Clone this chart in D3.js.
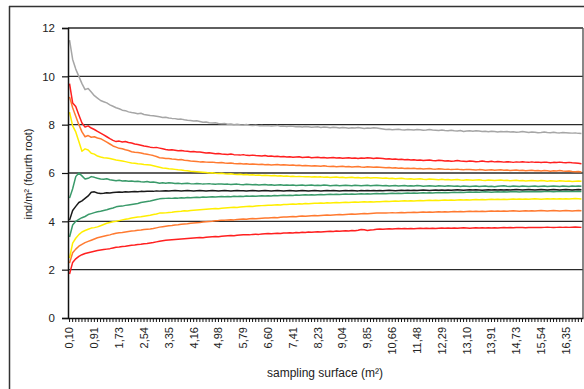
<!DOCTYPE html>
<html><head><meta charset="utf-8">
<script src="https://cdn.jsdelivr.net/npm/d3@7/dist/d3.min.js"></script>
<style>body{margin:0;background:#fff;}svg{display:block;font-family:"Liberation Sans",Arial,sans-serif;}</style>
</head><body><svg id="c" width="584" height="389"></svg>
<script>
// sampling unit area (m²); categories are cumulative sampled surfaces
const unitArea = 0.1015625;
const categories = d3.range(1, 167).map(k => (k * unitArea).toFixed(2).replace('.', ','));
const tickLabels = ["0,10","0,91","1,73","2,54","3,35","4,16","4,98","5,79","6,60","7,41","8,23","9,04","9,85","10,66","11,48","12,29","13,10","13,91","14,73","15,54","16,35"];
const yTicks = [0, 2, 4, 6, 8, 10, 12];

const gray = [11.5,10.7,10.3,10.0,9.7,9.45,9.5,9.35,9.2,9.1,
9.0,8.95,8.9,8.82,8.76,8.7,8.66,8.6,8.58,8.53,
8.5,8.48,8.45,8.47,8.42,8.4,8.38,8.37,8.35,8.33,
8.3,8.31,8.28,8.26,8.25,8.22,8.23,8.2,8.18,8.17,
8.15,8.16,8.13,8.1,8.11,8.08,8.07,8.08,8.05,8.04,
8.05,8.02,8.03,8.0,8.02,8.0,7.99,8.01,7.98,7.97,
7.98,7.96,7.97,7.95,7.96,7.94,7.95,7.97,7.93,7.94,
7.92,7.94,7.93,7.91,7.92,7.9,7.92,7.91,7.89,7.9,
7.91,7.88,7.9,7.89,7.87,7.89,7.88,7.86,7.88,7.87,
7.85,7.87,7.86,7.88,7.86,7.84,7.86,7.85,7.87,7.86,
7.84,7.82,7.8,7.81,7.79,7.8,7.81,7.79,7.78,7.8,
7.79,7.78,7.8,7.79,7.77,7.78,7.8,7.78,7.77,7.76,
7.78,7.76,7.75,7.77,7.75,7.74,7.76,7.72,7.74,7.75,
7.73,7.75,7.74,7.72,7.73,7.71,7.73,7.72,7.7,7.72,
7.71,7.72,7.7,7.71,7.69,7.7,7.72,7.7,7.68,7.7,
7.69,7.67,7.68,7.7,7.68,7.67,7.69,7.67,7.66,7.68,
7.67,7.66,7.65,7.66,7.64,7.63];

const redHigh = [9.7,8.9,8.75,8.4,8.07,7.9,7.95,7.86,7.8,7.72,
7.65,7.58,7.5,7.42,7.35,7.3,7.32,7.28,7.3,7.26,
7.24,7.2,7.18,7.15,7.12,7.1,7.07,7.05,7.06,7.03,
7.0,6.97,6.95,6.96,6.94,6.92,6.93,6.91,6.9,6.88,
6.89,6.87,6.87,6.85,6.83,6.84,6.82,6.8,6.81,6.79,
6.78,6.77,6.79,6.76,6.75,6.74,6.76,6.73,6.72,6.74,
6.72,6.71,6.7,6.72,6.69,6.7,6.68,6.69,6.67,6.68,
6.66,6.67,6.65,6.66,6.67,6.64,6.65,6.66,6.63,6.64,
6.65,6.63,6.64,6.62,6.63,6.64,6.62,6.63,6.61,6.62,
6.63,6.61,6.62,6.6,6.62,6.61,6.63,6.62,6.6,6.62,
6.61,6.6,6.58,6.59,6.57,6.58,6.56,6.57,6.55,6.56,
6.54,6.55,6.53,6.54,6.52,6.53,6.54,6.52,6.51,6.53,
6.52,6.5,6.51,6.49,6.5,6.52,6.5,6.49,6.48,6.5,
6.49,6.47,6.48,6.5,6.48,6.47,6.49,6.46,6.48,6.47,
6.45,6.47,6.46,6.44,6.46,6.45,6.47,6.45,6.44,6.46,
6.44,6.45,6.43,6.45,6.44,6.42,6.44,6.43,6.45,6.43,
6.42,6.44,6.42,6.41,6.4,6.38];

const orangeHigh = [9.15,8.7,8.35,8.0,7.7,7.5,7.55,7.48,7.5,7.45,
7.42,7.35,7.28,7.2,7.12,7.07,7.02,7.0,6.96,6.93,
6.88,6.86,6.85,6.83,6.8,6.78,6.75,6.72,6.68,6.63,
6.62,6.6,6.6,6.58,6.57,6.55,6.56,6.53,6.52,6.5,
6.49,6.48,6.46,6.47,6.45,6.44,6.45,6.43,6.42,6.43,
6.41,6.4,6.41,6.39,6.38,6.39,6.37,6.38,6.36,6.37,
6.36,6.35,6.36,6.34,6.35,6.33,6.34,6.35,6.33,6.34,
6.33,6.32,6.33,6.31,6.32,6.3,6.31,6.3,6.29,6.3,
6.29,6.28,6.3,6.28,6.27,6.28,6.26,6.27,6.28,6.26,
6.27,6.25,6.26,6.27,6.25,6.24,6.26,6.25,6.24,6.25,
6.24,6.23,6.22,6.23,6.21,6.22,6.2,6.21,6.19,6.2,
6.19,6.2,6.18,6.19,6.17,6.18,6.19,6.17,6.16,6.18,
6.17,6.15,6.16,6.14,6.15,6.16,6.14,6.13,6.15,6.14,
6.13,6.12,6.14,6.13,6.11,6.12,6.13,6.11,6.12,6.13,
6.11,6.12,6.1,6.11,6.12,6.1,6.11,6.09,6.1,6.11,
6.09,6.1,6.08,6.1,6.09,6.07,6.09,6.08,6.1,6.08,
6.07,6.08,6.06,6.05,6.06,6.04];

const yellowHigh = [8.52,7.95,7.7,7.3,6.9,7.0,6.95,6.82,6.78,6.7,
6.66,6.63,6.62,6.6,6.57,6.54,6.52,6.5,6.47,6.44,
6.41,6.4,6.38,6.37,6.35,6.34,6.33,6.3,6.27,6.24,
6.21,6.2,6.18,6.17,6.15,6.13,6.12,6.1,6.09,6.07,
6.06,6.05,6.04,6.03,6.02,6.0,6.01,5.99,5.98,5.99,
5.97,5.96,5.97,5.95,5.94,5.95,5.93,5.94,5.92,5.93,
5.91,5.92,5.9,5.91,5.9,5.89,5.9,5.88,5.89,5.87,
5.88,5.86,5.87,5.85,5.86,5.85,5.84,5.85,5.83,5.84,
5.83,5.84,5.82,5.83,5.81,5.82,5.83,5.81,5.82,5.8,
5.81,5.82,5.8,5.81,5.79,5.8,5.81,5.79,5.8,5.8,
5.79,5.78,5.79,5.77,5.78,5.76,5.77,5.78,5.76,5.75,
5.76,5.74,5.75,5.76,5.74,5.73,5.75,5.74,5.73,5.72,
5.74,5.72,5.73,5.71,5.72,5.73,5.71,5.7,5.72,5.71,
5.7,5.71,5.72,5.7,5.69,5.71,5.7,5.69,5.7,5.71,
5.69,5.7,5.68,5.69,5.7,5.68,5.69,5.67,5.68,5.69,
5.68,5.67,5.69,5.68,5.66,5.68,5.67,5.66,5.68,5.67,
5.66,5.67,5.65,5.66,5.67,5.66];

const greenHigh = [4.96,5.35,5.85,6.0,5.88,5.75,5.78,5.85,5.82,5.78,
5.75,5.74,5.76,5.72,5.7,5.68,5.7,5.67,5.68,5.66,
5.67,5.65,5.66,5.64,5.63,5.65,5.62,5.63,5.61,5.58,
5.6,5.58,5.6,5.59,5.57,5.58,5.56,5.57,5.58,5.56,
5.55,5.57,5.56,5.54,5.55,5.56,5.54,5.53,5.55,5.54,
5.53,5.54,5.52,5.53,5.54,5.52,5.51,5.53,5.52,5.51,
5.52,5.5,5.51,5.52,5.5,5.51,5.49,5.5,5.51,5.49,
5.5,5.49,5.5,5.48,5.49,5.5,5.48,5.49,5.5,5.48,
5.49,5.48,5.5,5.49,5.47,5.48,5.49,5.47,5.48,5.49,
5.48,5.47,5.49,5.48,5.47,5.48,5.49,5.47,5.48,5.49,
5.48,5.47,5.48,5.46,5.47,5.48,5.46,5.47,5.48,5.46,
5.47,5.46,5.48,5.47,5.45,5.46,5.47,5.46,5.45,5.47,
5.46,5.45,5.47,5.46,5.45,5.46,5.44,5.46,5.45,5.44,
5.45,5.46,5.44,5.45,5.46,5.44,5.45,5.43,5.45,5.46,
5.47,5.45,5.44,5.46,5.45,5.44,5.46,5.45,5.44,5.45,
5.46,5.44,5.45,5.46,5.44,5.45,5.46,5.45,5.44,5.46,
5.45,5.44,5.46,5.45,5.46,5.45];

const black = [4.05,4.45,4.62,4.78,4.85,4.95,5.05,5.2,5.22,5.17,
5.15,5.16,5.18,5.17,5.19,5.2,5.21,5.2,5.22,5.21,
5.22,5.23,5.22,5.24,5.23,5.24,5.25,5.24,5.26,5.25,
5.26,5.27,5.26,5.27,5.28,5.27,5.26,5.27,5.28,5.27,
5.26,5.27,5.28,5.27,5.26,5.27,5.28,5.27,5.26,5.27,
5.28,5.27,5.26,5.27,5.28,5.27,5.27,5.26,5.27,5.28,
5.27,5.26,5.27,5.28,5.27,5.26,5.27,5.28,5.27,5.26,
5.27,5.28,5.27,5.26,5.27,5.28,5.27,5.26,5.27,5.28,
5.27,5.26,5.27,5.28,5.27,5.28,5.27,5.26,5.27,5.28,
5.27,5.28,5.27,5.26,5.28,5.27,5.28,5.27,5.28,5.27,
5.28,5.27,5.28,5.29,5.28,5.27,5.28,5.29,5.28,5.29,
5.28,5.29,5.28,5.29,5.3,5.29,5.28,5.29,5.3,5.29,
5.3,5.29,5.3,5.29,5.3,5.31,5.3,5.29,5.3,5.31,
5.3,5.31,5.3,5.29,5.3,5.31,5.3,5.31,5.3,5.31,
5.3,5.31,5.3,5.31,5.32,5.31,5.3,5.31,5.32,5.31,
5.3,5.31,5.32,5.31,5.3,5.31,5.32,5.31,5.3,5.31,
5.32,5.31,5.3,5.31,5.32,5.31];

const greenLow = [3.35,3.85,4.0,4.08,4.15,4.2,4.28,4.32,4.36,4.4,
4.42,4.45,4.48,4.52,4.55,4.6,4.62,4.63,4.66,4.68,
4.7,4.72,4.74,4.78,4.8,4.82,4.84,4.87,4.9,4.93,
4.94,4.95,4.96,4.95,4.97,4.96,4.98,4.97,4.99,4.98,
4.99,5.0,4.99,5.01,5.0,5.01,5.02,5.01,5.02,5.03,
5.02,5.03,5.02,5.04,5.03,5.04,5.03,5.05,5.04,5.05,
5.04,5.05,5.06,5.05,5.06,5.05,5.07,5.06,5.07,5.08,
5.07,5.08,5.07,5.09,5.08,5.09,5.1,5.09,5.1,5.09,
5.1,5.11,5.1,5.11,5.12,5.11,5.12,5.11,5.12,5.13,
5.12,5.13,5.12,5.13,5.14,5.13,5.14,5.13,5.14,5.15,
5.14,5.15,5.14,5.15,5.16,5.15,5.16,5.15,5.16,5.17,
5.16,5.17,5.16,5.17,5.18,5.17,5.18,5.17,5.18,5.19,
5.18,5.19,5.18,5.19,5.2,5.19,5.2,5.19,5.2,5.21,
5.2,5.21,5.2,5.21,5.22,5.21,5.2,5.21,5.22,5.21,
5.22,5.21,5.22,5.23,5.22,5.21,5.22,5.23,5.22,5.23,
5.22,5.23,5.22,5.23,5.24,5.23,5.22,5.23,5.24,5.23,
5.24,5.23,5.24,5.23,5.24,5.23];

const yellowLow = [2.48,3.1,3.3,3.45,3.56,3.62,3.67,3.72,3.74,3.77,
3.82,3.87,3.92,3.95,3.98,4.0,4.03,4.06,4.09,4.11,
4.14,4.16,4.18,4.19,4.21,4.23,4.25,4.28,4.3,4.34,
4.34,4.35,4.37,4.38,4.4,4.41,4.42,4.44,4.43,4.45,
4.46,4.47,4.48,4.49,4.5,4.51,4.52,4.53,4.52,4.54,
4.55,4.56,4.57,4.58,4.57,4.59,4.6,4.61,4.62,4.61,
4.63,4.64,4.65,4.66,4.67,4.67,4.68,4.69,4.68,4.7,
4.7,4.71,4.72,4.71,4.73,4.72,4.74,4.73,4.74,4.75,
4.75,4.76,4.75,4.77,4.76,4.77,4.78,4.77,4.78,4.79,
4.78,4.79,4.8,4.79,4.8,4.81,4.8,4.81,4.8,4.81,
4.81,4.82,4.83,4.82,4.83,4.84,4.83,4.84,4.85,4.84,
4.85,4.84,4.85,4.86,4.85,4.86,4.87,4.86,4.87,4.86,
4.87,4.88,4.87,4.88,4.87,4.88,4.89,4.88,4.89,4.88,
4.89,4.9,4.89,4.9,4.89,4.9,4.91,4.9,4.91,4.9,
4.91,4.9,4.91,4.92,4.91,4.92,4.91,4.92,4.91,4.92,
4.93,4.92,4.91,4.92,4.93,4.92,4.93,4.92,4.93,4.92,
4.93,4.92,4.93,4.94,4.93,4.92];

const orangeLow = [2.27,2.7,2.85,2.97,3.05,3.12,3.17,3.22,3.27,3.32,
3.35,3.38,3.41,3.44,3.48,3.51,3.53,3.54,3.56,3.58,
3.6,3.61,3.63,3.64,3.66,3.67,3.68,3.7,3.73,3.76,
3.78,3.8,3.82,3.83,3.85,3.86,3.88,3.89,3.9,3.92,
3.93,3.94,3.95,3.97,3.98,3.99,4.0,4.02,4.03,4.05,
4.05,4.06,4.07,4.06,4.08,4.09,4.1,4.09,4.11,4.12,
4.11,4.12,4.13,4.14,4.14,4.15,4.16,4.15,4.17,4.18,
4.18,4.19,4.2,4.19,4.21,4.22,4.21,4.22,4.23,4.24,
4.23,4.24,4.25,4.26,4.25,4.26,4.27,4.28,4.27,4.28,
4.29,4.3,4.29,4.3,4.31,4.32,4.31,4.32,4.33,4.34,
4.34,4.35,4.34,4.35,4.36,4.35,4.36,4.37,4.36,4.37,
4.37,4.38,4.37,4.38,4.39,4.38,4.39,4.38,4.39,4.4,
4.39,4.4,4.39,4.4,4.41,4.4,4.41,4.4,4.41,4.42,
4.41,4.42,4.41,4.42,4.41,4.42,4.43,4.42,4.43,4.42,
4.43,4.42,4.43,4.44,4.43,4.42,4.43,4.44,4.43,4.44,
4.43,4.44,4.45,4.44,4.43,4.44,4.45,4.44,4.43,4.44,
4.45,4.44,4.43,4.44,4.45,4.44];

const redLow = [1.82,2.3,2.45,2.55,2.62,2.67,2.7,2.73,2.76,2.79,
2.81,2.83,2.85,2.87,2.9,2.93,2.94,2.96,2.97,2.99,
3.01,3.02,3.04,3.05,3.07,3.08,3.1,3.12,3.15,3.18,
3.2,3.22,3.23,3.24,3.25,3.26,3.27,3.28,3.29,3.3,
3.31,3.32,3.33,3.32,3.34,3.35,3.36,3.37,3.36,3.38,
3.39,3.4,3.41,3.4,3.42,3.43,3.44,3.45,3.44,3.46,
3.47,3.46,3.48,3.49,3.5,3.49,3.5,3.51,3.5,3.52,
3.52,3.53,3.52,3.54,3.53,3.55,3.54,3.56,3.55,3.56,
3.57,3.56,3.57,3.58,3.59,3.58,3.6,3.59,3.6,3.61,
3.6,3.62,3.61,3.63,3.66,3.65,3.62,3.64,3.65,3.67,
3.68,3.67,3.68,3.69,3.68,3.69,3.7,3.69,3.7,3.69,
3.7,3.69,3.7,3.71,3.7,3.71,3.7,3.71,3.7,3.71,
3.72,3.71,3.72,3.71,3.72,3.71,3.72,3.73,3.72,3.71,
3.72,3.73,3.72,3.73,3.72,3.73,3.72,3.73,3.72,3.73,
3.74,3.73,3.74,3.73,3.74,3.75,3.74,3.73,3.74,3.75,
3.74,3.75,3.74,3.75,3.76,3.75,3.74,3.75,3.76,3.75,
3.76,3.75,3.76,3.77,3.76,3.75];

const seriesList = [
  {name: "gray", values: gray, color: "#a6a6a6"},
  {name: "redLow", values: redLow, color: "#ff2020"},
  {name: "orangeLow", values: orangeLow, color: "#ff7a30"},
  {name: "yellowLow", values: yellowLow, color: "#ffee00"},
  {name: "greenLow", values: greenLow, color: "#3a9a6a"},
  {name: "black", values: black, color: "#1a1a1a"},
  {name: "greenHigh", values: greenHigh, color: "#3a9a6a"},
  {name: "yellowHigh", values: yellowHigh, color: "#ffee00"},
  {name: "orangeHigh", values: orangeHigh, color: "#ff7a30"},
  {name: "redHigh", values: redHigh, color: "#ff2020"}
];

const svg = d3.select("#c");
const L = 68, R = 583, T = 28, B = 318;

// outer frame
svg.append("line").attr("x1", 9.5).attr("x2", 9.5).attr("y1", 6).attr("y2", 389).attr("stroke", "#333").attr("stroke-width", 1.5);
svg.append("line").attr("x1", 9).attr("x2", 584).attr("y1", 6.5).attr("y2", 6.5).attr("stroke", "#333").attr("stroke-width", 1.5);

const x = d3.scaleBand().domain(categories).range([L, R]).padding(0);
const y = d3.scaleLinear().domain([0, 12]).range([B, T]);

// gridlines
svg.append("g").selectAll("line").data(yTicks.filter(d => d > 0)).join("line")
  .attr("x1", L).attr("x2", R).attr("y1", d => y(d)).attr("y2", d => y(d))
  .attr("stroke", "#2a2a2a").attr("stroke-width", 1.4);
// right border
svg.append("line").attr("x1", R).attr("x2", R).attr("y1", y(12)).attr("y2", B).attr("stroke", "#555").attr("stroke-width", 1.4);

// lines
const line = d3.line().x((d, i) => x(categories[i]) + x.bandwidth() / 2).y(d => y(d));
svg.append("g").selectAll("path").data(seriesList).join("path")
  .attr("d", s => line(s.values)).attr("fill", "none")
  .attr("stroke", s => s.color).attr("stroke-width", 1.5).attr("stroke-linejoin", "round");

// y axis
const yAxis = svg.append("g").attr("transform", `translate(${L},0)`)
  .call(d3.axisLeft(y).tickValues(yTicks).tickSize(6).tickPadding(7).tickFormat(d3.format("d")));
yAxis.select(".domain").attr("stroke", "#111").attr("stroke-width", 1.5);
yAxis.selectAll(".tick line").attr("stroke", "#111").attr("stroke-width", 1.2);
yAxis.selectAll("text").attr("font-size", 11.5).attr("fill", "#222").attr("font-family", "Liberation Sans, Arial, sans-serif");

// x axis
const labelSet = new Set(tickLabels);
const xAxis = svg.append("g").attr("transform", `translate(0,${B})`)
  .call(d3.axisBottom(x).tickValues(categories).tickSize(4).tickSizeOuter(0)
    .tickFormat((d, i) => (i % 8 === 0 && labelSet.has(d)) ? d : ""));
xAxis.select(".domain").attr("stroke", "#111").attr("stroke-width", 1.5);
xAxis.selectAll(".tick line").attr("stroke", "#111").attr("stroke-width", 1);
xAxis.selectAll("text").attr("font-size", 11).attr("fill", "#222")
  .attr("font-family", "Liberation Sans, Arial, sans-serif")
  .attr("transform", "rotate(-90)").attr("text-anchor", "end")
  .attr("x", -9).attr("y", 0).attr("dy", "0.35em");

// axis titles
svg.append("text").attr("transform", "translate(32,174) rotate(-90)").attr("text-anchor", "middle")
  .attr("font-size", 11).attr("fill", "#222").text("ind/m² (fourth root)");
svg.append("text").attr("x", 325).attr("y", 377).attr("text-anchor", "middle")
  .attr("font-size", 12).attr("fill", "#222").text("sampling surface (m²)");
</script></body></html>
